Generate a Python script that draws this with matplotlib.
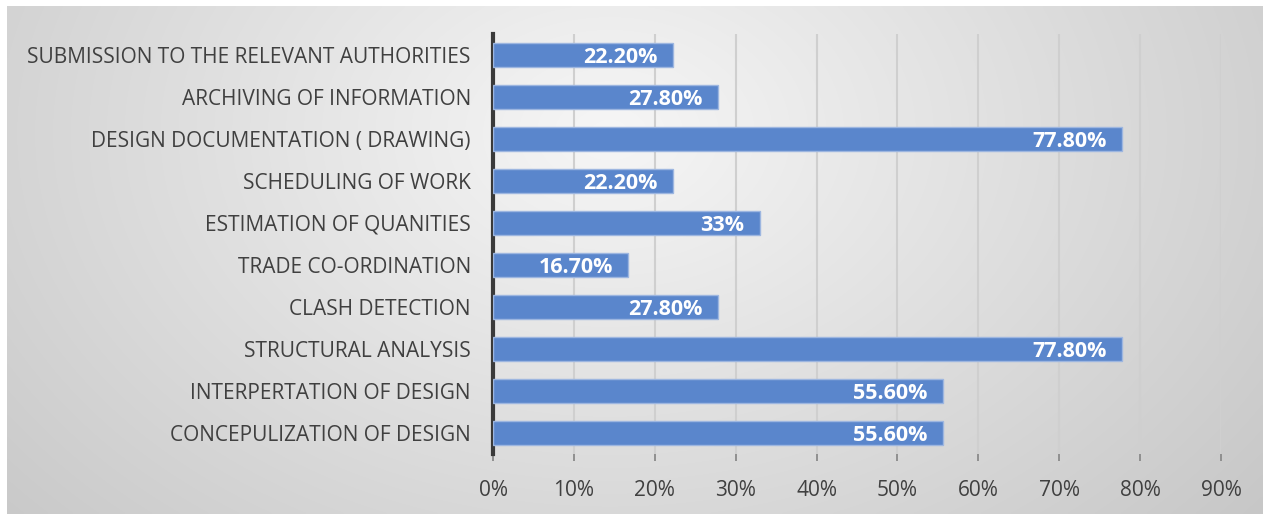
import numpy as np
import matplotlib
matplotlib.use("Agg")
import matplotlib.pyplot as plt
from matplotlib.ticker import FuncFormatter

categories = [
    "CONCEPULIZATION OF DESIGN",
    "INTERPERTATION OF DESIGN",
    "STRUCTURAL ANALYSIS",
    "CLASH DETECTION",
    "TRADE CO-ORDINATION",
    "ESTIMATION OF QUANITIES",
    "SCHEDULING OF WORK",
    "DESIGN DOCUMENTATION ( DRAWING)",
    "ARCHIVING OF INFORMATION",
    "SUBMISSION TO THE RELEVANT AUTHORITIES",
]
values = [0.556, 0.556, 0.778, 0.278, 0.167, 0.33, 0.222, 0.778, 0.278, 0.222]
value_labels = ["55.60%", "55.60%", "77.80%", "27.80%", "16.70%", "33%",
                "22.20%", "77.80%", "27.80%", "22.20%"]
xticks = [0, 0.1, 0.2, 0.3, 0.4, 0.5, 0.6, 0.7, 0.8, 0.9]

W, H = 1263, 514
fig = plt.figure(figsize=(W / 100, H / 100), dpi=100)
fig.patch.set_facecolor("white")

# gradient background frame
bg = fig.add_axes([7 / W, 0, 1 - 7 / W, 1 - 6 / H])
bg.set_axis_off()
nx, ny = 400, 200
xx, yy = np.meshgrid(np.linspace(0, 1, nx), np.linspace(0, 1, ny))
cx, cy = 0.48, 0.25
d = np.sqrt(((xx - cx) / 0.62) ** 2 + ((yy - cy) / 1.1) ** 2)
g = np.clip(0.965 - 0.17 * d, 0.76, 0.97)
img = np.dstack([g, g, g])
bg.imshow(img, aspect="auto", extent=[0, 1, 1, 0], interpolation="bilinear")
bg.set_xlim(0, 1)
bg.set_ylim(1, 0)

# partially visible caption glyph at top (cut off in the reference too)
fig.text(249 / W, 1 + 12 / H, "g", fontsize=15, family="Liberation Serif",
         color="black", va="baseline", ha="left")

ax = fig.add_axes([493 / W, 1 - 454 / H, (1221 - 493) / W, 420 / H])
ax.patch.set_alpha(0)
y = np.arange(len(categories))
ax.barh(y, values, height=0.57, color="#5a86cc", edgecolor="#9db6e0",
        linewidth=1.0, zorder=3)
for yi, v, lab in zip(y, values, value_labels):
    ax.text(v - 0.019, yi, lab, ha="right", va="center_baseline", color="white",
            fontsize=15.5, fontweight="bold", family="Open Sans", zorder=4)

ax.set_xlim(0, 0.9)
ax.set_ylim(-0.5, len(categories) - 0.5)
ax.set_xticks(xticks)
ax.xaxis.set_major_formatter(FuncFormatter(lambda v, p: f"{v*100:.0f}%"))
ax.set_yticks(y)
ax.set_yticklabels(categories)
ax.grid(axis="x", color="#cfcfcf", linewidth=1.5, zorder=0)
for s in ["top", "right", "bottom"]:
    ax.spines[s].set_visible(False)
ax.spines["left"].set_color("#3a3a3a")
ax.spines["left"].set_linewidth(3)
ax.tick_params(axis="x", length=5, width=1.3, color="#8a8a8a", pad=14,
               labelsize=15, labelcolor="#404040")
ax.tick_params(axis="y", length=0, pad=16, labelsize=15, labelcolor="#404040")
for t in ax.get_xticklabels() + ax.get_yticklabels():
    t.set_family("Open Sans")

fig.savefig("out.png", dpi=100)
